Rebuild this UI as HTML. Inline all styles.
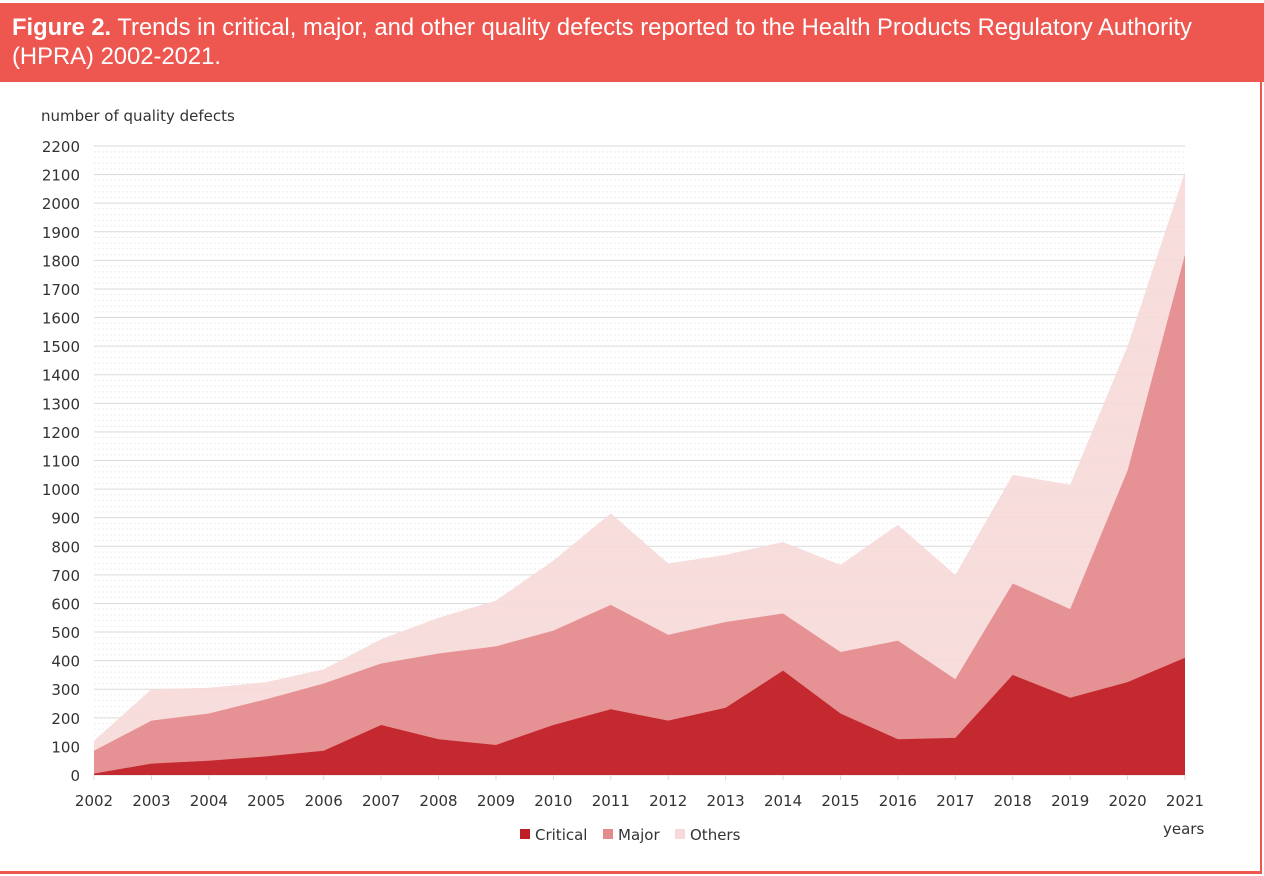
<!DOCTYPE html>
<html><head><meta charset="utf-8"><style>
body{margin:0;width:1264px;height:876px;background:#fff;overflow:hidden;font-family:"Liberation Sans",sans-serif}
#hdr{position:absolute;left:0;top:3px;width:1264px;height:79px;background:#ee5650;color:#fff;font-size:23.8px;line-height:29px;padding:10px 0 0 12px;box-sizing:border-box}
#frame{position:absolute;left:0;top:82px;width:1262px;height:792px;border-right:2px solid #ee5650;border-bottom:3px solid #ee5650;box-sizing:border-box}
</style></head><body>
<div id="hdr"><b>Figure 2.</b> Trends in critical, major, and other quality defects reported to the Health Products Regulatory Authority<br>(HPRA) 2002-2021.</div>
<div id="frame"></div>
<svg id="chart" width="1264" height="876" style="position:absolute;left:0;top:0"></svg>
<script>
const years=[2002,2003,2004,2005,2006,2007,2008,2009,2010,2011,2012,2013,2014,2015,2016,2017,2018,2019,2020,2021];
const critical=[5,40,50,65,85,175,125,105,175,230,190,235,365,215,125,130,350,270,325,410];
const major=[80,150,165,200,235,215,300,345,330,365,300,300,200,215,345,205,320,310,740,1410];
const others=[35,110,90,60,50,85,125,160,245,320,250,235,250,305,405,365,380,435,435,290];
const yTicks=[0,100,200,300,400,500,600,700,800,900,1000,1100,1200,1300,1400,1500,1600,1700,1800,1900,2000,2100,2200];
const NS='http://www.w3.org/2000/svg';
const svg=document.getElementById('chart');
const x0=94,x1=1185,y0=775,y1=146,ymax=2200;
const X=i=>x0+(x1-x0)*i/(years.length-1);
const Y=v=>y0-(y0-y1)*v/ymax;
function mk(t,a){const e=document.createElementNS(NS,t);for(const k in a)e.setAttribute(k,a[k]);svg.appendChild(e);return e;}
for(let v=0;v<ymax;v+=20){if(v%100){const l=mk('line',{x1:x0,x2:x1,y1:Y(v),y2:Y(v),stroke:'#eeeeee','stroke-dasharray':'2,2'});

}}
yTicks.forEach(v=>{const l=mk('line',{x1:x0,x2:x1,y1:Y(v),y2:Y(v),stroke:'#d9d9d9'});


const t=mk('text',{x:80,y:Y(v)+6,'text-anchor':'end','font-size':15,fill:'#333','font-family':'"DejaVu Sans",sans-serif'});t.textContent=v;

});
const s1=critical, s2=critical.map((c,i)=>c+major[i]), s3=s2.map((c,i)=>c+others[i]);
function area(top,col,name){let d='M'+X(0)+','+y0;top.forEach((v,i)=>d+=' L'+X(i)+','+Y(v));d+=' L'+X(top.length-1)+','+y0+'Z';
const p=mk('path',{d:d,fill:col,'fill-opacity':0.9});

}
area(s3,'#f7d9d9','area-others');area(s2,'#e38a8c','area-major');area(s1,'#c01e25','area-critical');
years.forEach((yr,i)=>{const t=mk('text',{x:X(i),y:806,'text-anchor':'middle','font-size':15,fill:'#333','font-family':'"DejaVu Sans",sans-serif'});t.textContent=yr;


const tk=mk('line',{x1:X(i),x2:X(i),y1:y0,y2:y0+5,stroke:'#d9d9d9'});

});
const yt=mk('text',{x:41,y:121,'font-size':15,fill:'#333','font-family':'"DejaVu Sans",sans-serif'});yt.textContent='number of quality defects';


const xt=mk('text',{x:1163,y:834,'font-size':15,fill:'#333','font-family':'"DejaVu Sans",sans-serif'});xt.textContent='years';


[['Critical','#c01e25',520],['Major','#e38a8c',603],['Others','#f7d9d9',675]].forEach(([n,c,x])=>{
const r=mk('rect',{x:x,y:829,width:10,height:10,fill:c});


const t=mk('text',{x:x+15,y:840,'font-size':15,fill:'#333','font-family':'"DejaVu Sans",sans-serif'});t.textContent=n;

});
</script>
</body></html>
